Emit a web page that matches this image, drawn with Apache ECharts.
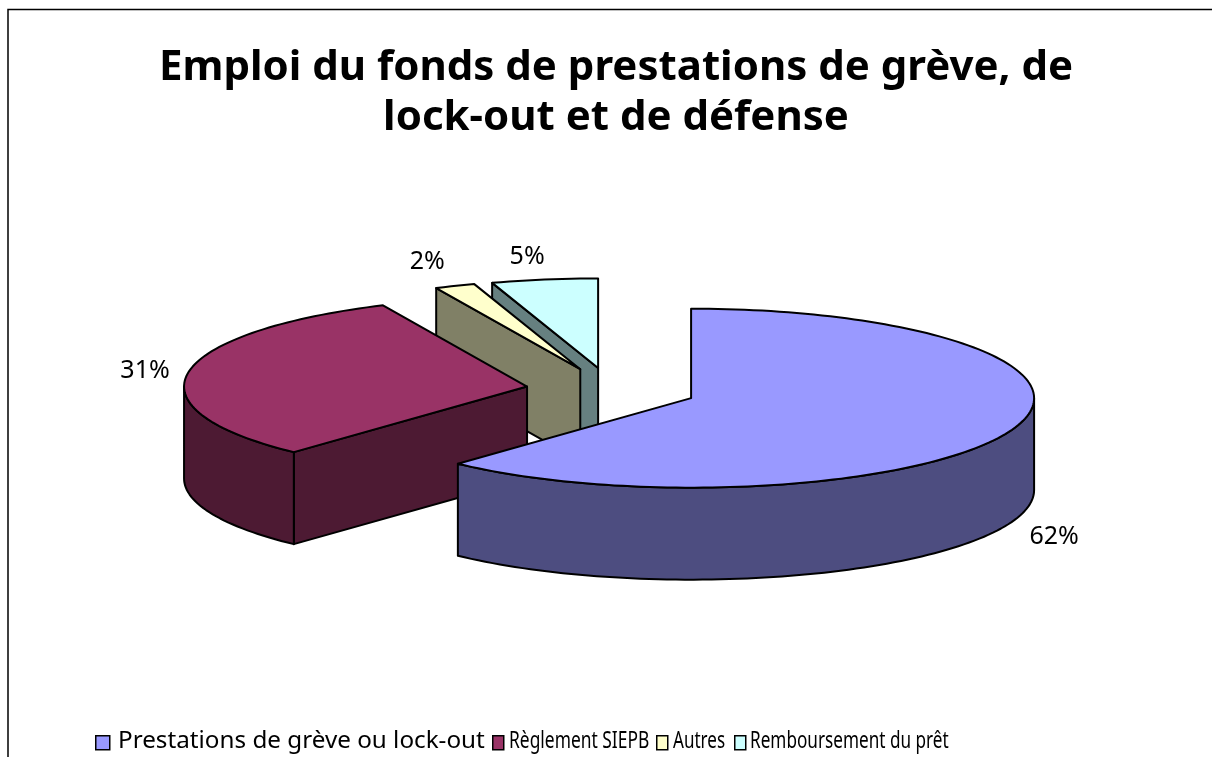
<!DOCTYPE html>
<html><head><meta charset="utf-8">
<style>html,body{margin:0;padding:0;background:#fff}#c{width:1212px;height:757px}</style>
<script src="https://cdn.jsdelivr.net/npm/echarts@6/dist/echarts.min.js"></script>
</head><body><div id="c"></div>
<script>
const titleText = 'Emploi du fonds de prestations de grève, de\nlock-out et de défense';
const categories = ['Prestations de grève ou lock-out', 'Règlement SIEPB', 'Autres', 'Remboursement du prêt'];
const values = [61.9, 31.2, 1.9, 5];
const topColors = ['#9999FF', '#993366', '#FFFFCC', '#CCFFFF'];
const sideColors = ['#4D4D80', '#4D1A33', '#808066', '#668080'];
const labelOffsets = [[363, 139], [-382, -16], [-153, -107], [-71, -111]];
const legendLefts = [95, 492, 656, 734];
const legendTextX = [118, 509, 673, 750];
const legendTextScale = [1.01, 0.725, 0.71, 0.715];
const FONT = '"Noto Sans"';
const CX = 611.5, CY = 390, RX = 343, RY = 89.5, DEPTH = 92, EXPLODE = 85.5;
const total = values.reduce((a, b) => a + b, 0);
const pt = (c, deg, dy) => {
  const t = deg * Math.PI / 180;
  return [c[0] + RX * Math.sin(t), c[1] - RY * Math.cos(t) + (dy || 0)];
};
const arc = (c, a0, a1, dy) => {
  const n = Math.max(2, Math.ceil(Math.abs(a1 - a0) / 1.5)), out = [];
  for (let i = 0; i <= n; i++) out.push(pt(c, a0 + (a1 - a0) * i / n, dy));
  return out;
};
function renderSlice(idx) {
  return function (params, api) {
    const v = api.value(0);
    const a0 = values.slice(0, idx).reduce((a, b) => a + b, 0) / total * 360;
    const a1 = a0 + v / total * 360;
    const mid = (a0 + a1) / 2 * Math.PI / 180;
    const c = [CX + EXPLODE * Math.sin(mid), CY - EXPLODE * RY / RX * Math.cos(mid)];
    const st = { stroke: '#000', lineWidth: 2, lineJoin: 'round' };
    const poly = (points, fill) => ({ type: 'polygon', shape: { points }, style: Object.assign({ fill }, st) });
    const kids = [];
    const face = (a) => {
      const p = pt(c, a);
      kids.push(poly([c, p, [p[0], p[1] + DEPTH], [c[0], c[1] + DEPTH]], sideColors[idx]));
    };
    if (a1 > 0 && a1 < 180) face(a1);
    if (a0 > 180 && a0 < 360) face(a0);
    const w0 = Math.max(a0, 90), w1 = Math.min(a1, 270);
    if (w1 > w0) {
      kids.push(poly(arc(c, w0, w1, 0).concat(arc(c, w1, w0, DEPTH)), sideColors[idx]));
    }
    kids.push(poly([c].concat(arc(c, a0, a1, 0)), topColors[idx]));
    kids.push({
      type: 'text',
      style: {
        x: c[0] + labelOffsets[idx][0], y: c[1] + labelOffsets[idx][1],
        text: Math.round(v) + '%', fill: '#000', font: '25px ' + FONT, align: 'center', verticalAlign: 'middle'
      }
    });
    return { type: 'group', children: kids };
  };
}
const chart = echarts.init(document.getElementById('c'), null, { renderer: 'canvas' });
chart.setOption({
  animation: false,
  backgroundColor: '#fff',
  title: {
    text: titleText, left: 611, top: 38, textAlign: 'center',
    textStyle: { fontFamily: FONT, fontWeight: 'bold', fontSize: 42, lineHeight: 50, color: '#000' }
  },
  legend: categories.map((name, i) => ({
    left: legendLefts[i], top: 735, padding: 0, itemWidth: i ? 11 : 14, itemHeight: 14,
    icon: 'rect', data: [name], formatter: () => '',
    itemStyle: { borderColor: '#000', borderWidth: 1.5 }
  })),
  graphic: [{
    type: 'polyline', silent: true,
    shape: { points: [[8, 757], [8, 9.5], [1212, 9.5]] },
    style: { stroke: '#000', lineWidth: 1.5, fill: null }
  }].concat(categories.map((name, i) => ({
    type: 'text', silent: true, x: legendTextX[i], y: 741, scaleX: legendTextScale[i],
    style: { text: name, fill: '#000', font: '24px ' + FONT, verticalAlign: 'middle' }
  }))),
  series: categories.map((name, i) => ({
    type: 'custom', name, coordinateSystem: 'none', silent: true,
    z: [5, 4, 3, 2][i],
    itemStyle: { color: topColors[i] },
    data: [[values[i]]],
    renderItem: renderSlice(i)
  }))
});
</script></body></html>
